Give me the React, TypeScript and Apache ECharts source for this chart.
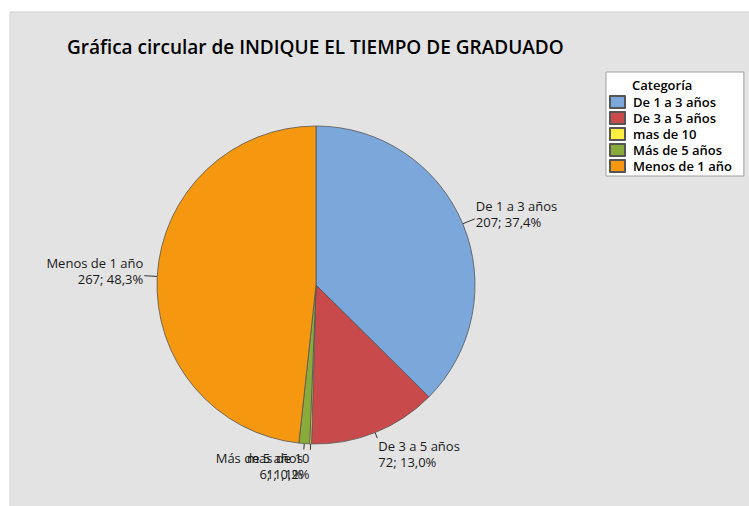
import React, { useEffect, useRef } from "react";
import * as echarts from "echarts";

const categories = ["De 1 a 3 años", "De 3 a 5 años", "mas de 10", "Más de 5 años", "Menos de 1 año"];
const counts = [207, 72, 1, 6, 267];
const sliceColors = ["#7ba7db", "#c94a4a", "#ffed40", "#8aab3c", "#f6980f"];
const bottomLabels = ["De 3 a 5 años", "mas de 10", "Más de 5 años"];

const titleText = "Gráfica circular de INDIQUE EL TIEMPO DE GRADUADO";
const legendTitle = "Categoría";

const FONT = "'Open Sans', 'Noto Sans', sans-serif";

export default function App() {
  const ref = useRef<HTMLDivElement>(null);
  useEffect(() => {
    if (!ref.current) return;
    const chart = echarts.init(ref.current, undefined, { renderer: "svg" });
    const data = categories.map((name, i) => {
      const isBottom = bottomLabels.includes(name);
      return {
        name,
        value: counts[i],
        itemStyle: { color: sliceColors[i] },
        labelLine: isBottom ? { length: 6 } : { length: 13 },
      };
    });
    chart.setOption({
      animation: false,
      backgroundColor: "#ffffff",
      textStyle: { fontFamily: FONT },
      graphic: [
        {
          type: "rect",
          shape: { x: 10, y: 12, width: 745, height: 500 },
          style: { fill: "#e3e3e3", stroke: "#d2d2d2", lineWidth: 1 },
          z: -10,
          silent: true,
        },
        {
          type: "text",
          left: 632,
          top: 78,
          z: 100,
          style: { text: legendTitle, font: `600 13px ${FONT}`, fill: "#000" },
        },
      ],
      title: {
        text: titleText,
        left: 62,
        top: 32,
        textStyle: { fontFamily: FONT, fontSize: 19, fontWeight: 600, color: "#000" },
      },
      legend: {
        orient: "vertical",
        left: 606,
        top: 72,
        backgroundColor: "#ffffff",
        borderColor: "#a0a0a0",
        borderWidth: 1,
        borderRadius: 0,
        padding: [23, 12, 3, 3],
        itemWidth: 15,
        itemHeight: 12,
        itemGap: 2,
        icon: "rect",
        data: categories,
        textStyle: { fontFamily: FONT, fontSize: 13, fontWeight: 600, color: "#000", padding: [0, 0, 0, 3] },
      },
      series: [
        {
          type: "pie",
          center: [316, 285],
          radius: 159,
          startAngle: 90,
          clockwise: true,
          avoidLabelOverlap: false,
          minShowLabelAngle: 0,
          itemStyle: { borderColor: "#555555", borderWidth: 0.8 },
          label: {
            show: true,
            position: "outside",
            fontFamily: FONT,
            fontSize: 13,
            lineHeight: 16,
            color: "#1a1a1a",
            distanceToLabelLine: 1,
            formatter: (p: any) => `${p.name}\n${p.value}; ${p.percent.toFixed(1).replace(".", ",")}%`,
          },
          labelLine: {
            show: true,
            length: 13,
            length2: 0,
            lineStyle: { color: "#333", width: 1 },
          },
          labelLayout: (p: any) => {
            const name = categories[p.dataIndex];
            return bottomLabels.includes(name)
              ? { hideOverlap: false, verticalAlign: "top" }
              : { hideOverlap: false, dy: -5, labelLinePoints: p.labelLinePoints };
          },
          emphasis: { disabled: true },
          data,
        },
      ],
    });
    return () => chart.dispose();
  }, []);
  return <div ref={ref} style={{ position: "fixed", left: 0, top: 0, width: 749, height: 506 }} />;
}
